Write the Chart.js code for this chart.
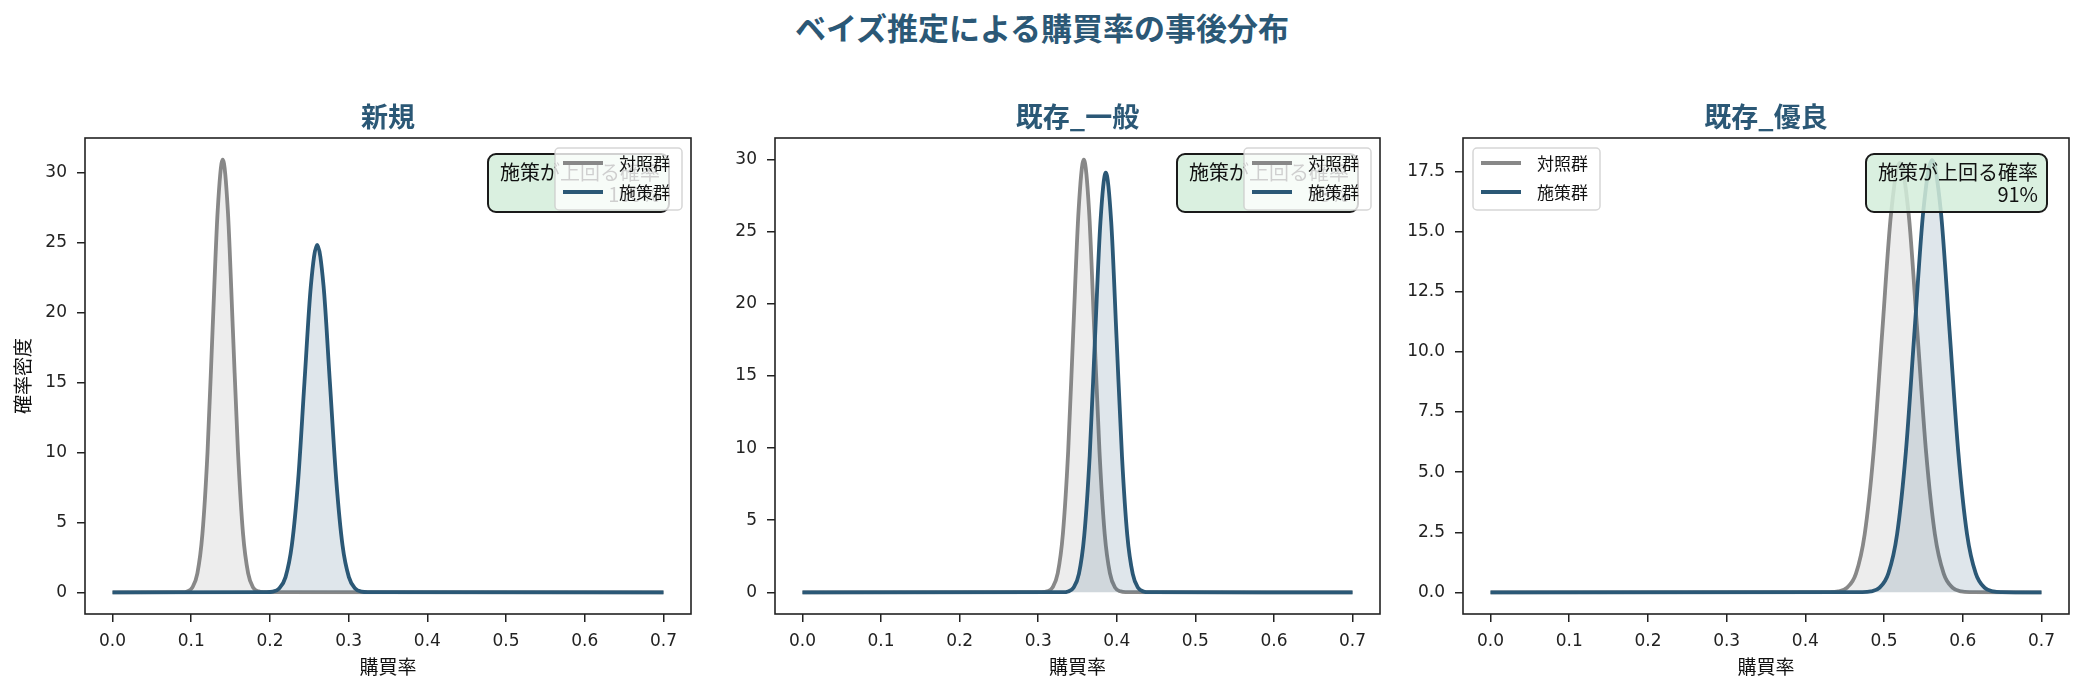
<!DOCTYPE html>
<html>
<head>
<meta charset="utf-8">
<script src="https://cdn.jsdelivr.net/npm/chart.js@4.4.1/dist/chart.umd.min.js"></script>
<style>
  body { margin: 0; background: #fff; width: 2084px; height: 693px; overflow: hidden; position: relative; }
  #title { position: absolute; left: 0; top: 8px; width: 2084px; text-align: center; font-family: "Noto Sans CJK JP"; font-size: 31px; font-weight: bold; color: #2b5876; line-height: 38px; }
  canvas { position: absolute; top: 0; }
</style>
</head>
<body>
<div id="title">ベイズ推定による購買率の事後分布</div>
<canvas id="c1" width="701" height="693" style="left:0px"></canvas>
<canvas id="c2" width="700" height="693" style="left:690px"></canvas>
<canvas id="c3" width="701" height="693" style="left:1378px"></canvas>
<script>
// labels
var panelTitles = ['新規', '既存_一般', '既存_優良'];
var seriesLabels = ['対照群', '施策群'];
var probLabel = '施策が上回る確率';
var probValues = ['100%', '93%', '91%'];

// tick values / labels
var xTicks = [0, 0.1, 0.2, 0.3, 0.4, 0.5, 0.6, 0.7];
var xTickLabels = ['0.0', '0.1', '0.2', '0.3', '0.4', '0.5', '0.6', '0.7'];
var yTicksInt = [0, 5, 10, 15, 20, 25, 30];
var yTickLabelsInt = ['0', '5', '10', '15', '20', '25', '30'];
var yTicksDec = [0, 2.5, 5, 7.5, 10, 12.5, 15, 17.5];
var yTickLabelsDec = ['0.0', '2.5', '5.0', '7.5', '10.0', '12.5', '15.0', '17.5'];

// 新規
var ctrlX1 = [0, 0.0884, 0.0949, 0.1013, 0.1078, 0.1142, 0.1207, 0.1271, 0.1336, 0.1400, 0.1465, 0.1529, 0.1594, 0.1658, 0.1723, 0.1787, 0.1852, 0.1916, 0.7];
var ctrlY1 = [0, 0.01, 0.07, 0.34, 1.36, 4.19, 10.05, 18.77, 27.31, 30.95, 27.31, 18.77, 10.05, 4.19, 1.36, 0.34, 0.07, 0.01, 0];
var trtX1 = [0, 0.1956, 0.2037, 0.2117, 0.2198, 0.2278, 0.2359, 0.2439, 0.2520, 0.2600, 0.2681, 0.2761, 0.2842, 0.2922, 0.3003, 0.3083, 0.3164, 0.3244, 0.7];
var trtY1 = [0, 0.01, 0.05, 0.28, 1.09, 3.36, 8.07, 15.07, 21.93, 24.85, 21.93, 15.07, 8.07, 3.36, 1.09, 0.28, 0.05, 0.01, 0];

// 既存_一般
var ctrlX2 = [0, 0.3048, 0.3115, 0.3181, 0.3248, 0.3314, 0.3381, 0.3447, 0.3514, 0.3580, 0.3647, 0.3713, 0.3780, 0.3846, 0.3913, 0.3979, 0.4046, 0.4112, 0.7];
var ctrlY2 = [0, 0.01, 0.07, 0.33, 1.32, 4.06, 9.74, 18.20, 26.48, 30.00, 26.48, 18.20, 9.74, 4.06, 1.32, 0.33, 0.07, 0.01, 0];
var trtX2 = [0, 0.3312, 0.3381, 0.3449, 0.3518, 0.3586, 0.3655, 0.3723, 0.3792, 0.3860, 0.3929, 0.3997, 0.4066, 0.4134, 0.4203, 0.4271, 0.4340, 0.4408, 0.7];
var trtY2 = [0, 0.01, 0.06, 0.32, 1.28, 3.94, 9.45, 17.65, 25.68, 29.10, 25.68, 17.65, 9.45, 3.94, 1.28, 0.32, 0.06, 0.01, 0];

// 既存_優良
var ctrlX3 = [0, 0.4308, 0.4420, 0.4531, 0.4643, 0.4754, 0.4866, 0.4977, 0.5089, 0.5200, 0.5312, 0.5423, 0.5535, 0.5646, 0.5758, 0.5869, 0.5981, 0.6092, 0.7];
var ctrlY3 = [0, 0.01, 0.04, 0.20, 0.78, 2.42, 5.80, 10.83, 15.76, 17.86, 15.76, 10.83, 5.80, 2.42, 0.78, 0.20, 0.04, 0.01, 0];
var trtX3 = [0, 0.4722, 0.4833, 0.4944, 0.5055, 0.5166, 0.5277, 0.5388, 0.5499, 0.5610, 0.5721, 0.5832, 0.5943, 0.6054, 0.6165, 0.6276, 0.6387, 0.6498, 0.7];
var trtY3 = [0, 0.01, 0.04, 0.20, 0.79, 2.43, 5.84, 10.90, 15.87, 17.98, 15.87, 10.90, 5.84, 2.43, 0.79, 0.20, 0.04, 0.01, 0];

var FONT = '"Noto Sans CJK JP", "Noto Sans", sans-serif';
var TICK_FONT = '"DejaVu Sans", sans-serif';
var GRAY = '#888888';
var BLUE = '#2b5876';

Chart.defaults.font.family = FONT;
Chart.defaults.color = '#222';
Chart.defaults.animation = false;

function pts(xs, ys) {
  return xs.map(function (x, i) { return { x: x, y: ys[i] }; });
}

// frame, probability box and legend drawn on top of the plot
var panelDecor = {
  id: 'panelDecor',
  afterDraw: function (chart, args, opts) {
    var ctx = chart.ctx, a = chart.chartArea;
    ctx.save();

    ctx.strokeStyle = '#222';
    ctx.lineWidth = 1.6;
    ctx.strokeRect(a.left, a.top, a.right - a.left, a.bottom - a.top);

    // probability box
    ctx.font = '20px ' + FONT;
    var tw = Math.max(ctx.measureText(probLabel).width, ctx.measureText(opts.prob).width);
    var bw = tw + 21, bh = 58;
    var bx = a.right - 22 - bw, by = a.top + 16;
    ctx.beginPath();
    ctx.roundRect(bx, by, bw, bh, 8);
    ctx.fillStyle = 'rgba(212,237,218,0.85)';
    ctx.fill();
    ctx.lineWidth = 2;
    ctx.strokeStyle = '#1a1a1a';
    ctx.stroke();
    ctx.fillStyle = '#111';
    ctx.textAlign = 'right';
    ctx.textBaseline = 'middle';
    ctx.fillText(probLabel, bx + bw - 9, by + 18);
    ctx.fillText(opts.prob, bx + bw - 9, by + 40);

    // legend
    var lw = 127, lh = 62;
    var lx = opts.legendLeft ? a.left + 10 : a.right - 9 - lw;
    var ly = a.top + 10;
    ctx.beginPath();
    ctx.roundRect(lx, ly, lw, lh, 4);
    ctx.fillStyle = 'rgba(255,255,255,0.8)';
    ctx.fill();
    ctx.strokeStyle = 'rgba(204,204,204,0.8)';
    ctx.lineWidth = 1.5;
    ctx.stroke();
    ctx.font = '17px ' + FONT;
    ctx.textAlign = 'left';
    chart.data.datasets.forEach(function (ds, i) {
      var yy = ly + 15 + i * 29;
      ctx.beginPath();
      ctx.moveTo(lx + 8, yy);
      ctx.lineTo(lx + 48, yy);
      ctx.strokeStyle = ds.borderColor;
      ctx.lineWidth = 3.8;
      ctx.stroke();
      ctx.fillStyle = '#111';
      ctx.fillText(ds.label, lx + 64, yy + 1);
    });
    ctx.restore();
  }
};

function makePanel(id, idx, cx, cy, tx, ty, yMin, yMax, yTicks, yTickLabels, showYTitle, legendLeft) {
  var config = {
    type: 'line',
    data: {
      datasets: [
        {
          label: seriesLabels[0],
          data: pts(cx, cy),
          borderColor: GRAY,
          backgroundColor: 'rgba(136,136,136,0.15)',
          borderWidth: 3.8,
          fill: 'origin',
          pointRadius: 0,
          cubicInterpolationMode: 'monotone',
          order: 2
        },
        {
          label: seriesLabels[1],
          data: pts(tx, ty),
          borderColor: BLUE,
          backgroundColor: 'rgba(43,88,118,0.15)',
          borderWidth: 3.8,
          fill: 'origin',
          pointRadius: 0,
          cubicInterpolationMode: 'monotone',
          order: 1
        }
      ]
    },
    options: {
      responsive: false,
      devicePixelRatio: 1,
      layout: { padding: { left: 0, right: 10, top: 0, bottom: 0 } },
      plugins: {
        legend: { display: false },
        tooltip: { enabled: false },
        title: {
          display: true,
          fullSize: false,
          text: panelTitles[idx],
          color: BLUE,
          font: { size: 27, weight: 'bold', lineHeight: 1.2 },
          padding: { top: 101, bottom: 4.6 }
        },
        panelDecor: { prob: probValues[idx], legendLeft: legendLeft }
      },
      scales: {
        x: {
          type: 'linear',
          min: -0.035,
          max: 0.735,
          afterBuildTicks: function (s) { s.ticks = xTicks.map(function (v) { return { value: v }; }); },
          afterFit: function (s) { s.height = 79; },
          ticks: {
            autoSkip: false,
            maxRotation: 0,
            padding: 9,
            color: '#222',
            font: { family: TICK_FONT, size: 17 },
            callback: function (v, i) { return xTickLabels[i]; }
          },
          grid: { drawOnChartArea: false, drawTicks: true, tickLength: 8, color: '#222', lineWidth: 1.5 },
          border: { display: false },
          title: { display: true, text: '購買率', color: '#111', font: { size: 19, lineHeight: 1.2 }, padding: { top: 0, bottom: 15 } }
        },
        y: {
          min: yMin,
          max: yMax,
          afterBuildTicks: function (s) { s.ticks = yTicks.map(function (v) { return { value: v }; }); },
          afterFit: function (s) { s.width = 85; },
          ticks: {
            autoSkip: false,
            padding: 10,
            color: '#222',
            font: { family: TICK_FONT, size: 17 },
            callback: function (v, i) { return yTickLabels[i]; }
          },
          grid: { drawOnChartArea: false, drawTicks: true, tickLength: 8, color: '#222', lineWidth: 1.5 },
          border: { display: false },
          title: { display: showYTitle, text: '確率密度', color: '#111', font: { size: 19, lineHeight: 1.2 }, padding: { top: 11, bottom: 0 } }
        }
      }
    },
    plugins: [panelDecor]
  };
  return new Chart(document.getElementById(id).getContext('2d'), config);
}

makePanel('c1', 0, ctrlX1, ctrlY1, trtX1, trtY1, -1.55, 32.5, yTicksInt, yTickLabelsInt, true, false);
makePanel('c2', 1, ctrlX2, ctrlY2, trtX2, trtY2, -1.5, 31.5, yTicksInt, yTickLabelsInt, false, false);
makePanel('c3', 2, ctrlX3, ctrlY3, trtX3, trtY3, -0.9, 18.9, yTicksDec, yTickLabelsDec, false, true);
</script>
</body>
</html>
